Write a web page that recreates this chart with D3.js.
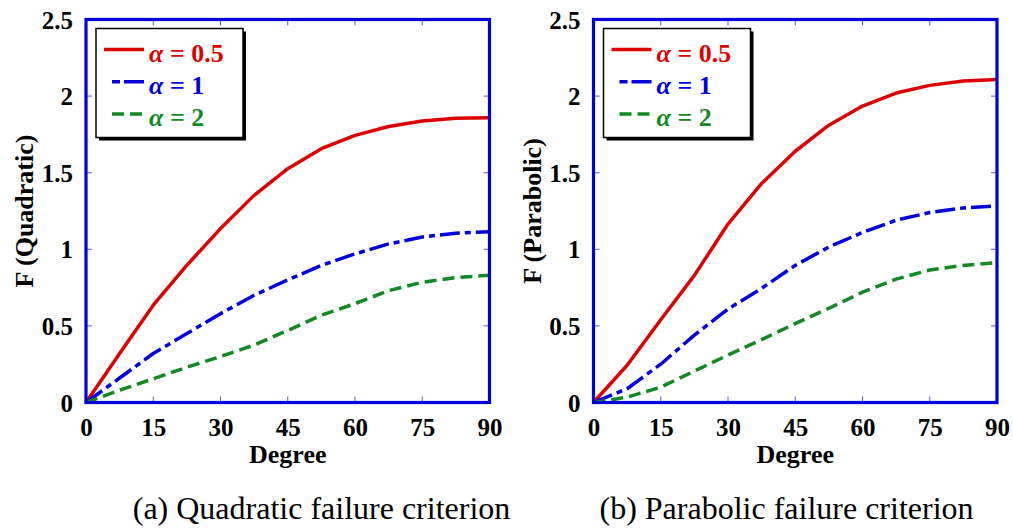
<!DOCTYPE html>
<html>
<head>
<meta charset="utf-8">
<script src="https://cdn.jsdelivr.net/npm/d3@7"></script>
<style>
  body { margin: 0; background: #fff; }
  text { font-family: "Liberation Serif", "Times New Roman", serif; }
</style>
</head>
<body>
<div class="chart"></div>
<script>
// Data, every 7.5 degrees
var degrees = [0, 7.5, 15, 22.5, 30, 37.5, 45, 52.5, 60, 67.5, 75, 82.5, 90];

var quadAlpha05 = [0, 0.32, 0.635, 0.896, 1.135, 1.352, 1.526, 1.657, 1.744, 1.802, 1.837, 1.855, 1.859];
var quadAlpha1  = [0, 0.16, 0.32, 0.45, 0.58, 0.70, 0.80, 0.895, 0.97, 1.035, 1.08, 1.105, 1.115];
var quadAlpha2  = [0, 0.08, 0.155, 0.23, 0.30, 0.375, 0.47, 0.57, 0.645, 0.73, 0.785, 0.815, 0.83];

var paraAlpha05 = [0, 0.243, 0.54, 0.83, 1.165, 1.43, 1.64, 1.81, 1.935, 2.02, 2.07, 2.098, 2.108];
var paraAlpha1  = [0, 0.09, 0.25, 0.44, 0.61, 0.745, 0.895, 1.015, 1.11, 1.19, 1.24, 1.27, 1.283];
var paraAlpha2  = [0, 0.035, 0.10, 0.205, 0.31, 0.41, 0.515, 0.615, 0.72, 0.805, 0.865, 0.895, 0.913];

var alphaLabels = ["0.5", "1", "2"];
var xTicks = [0, 15, 30, 45, 60, 75, 90];
var yTicks = [0, 0.5, 1, 1.5, 2, 2.5];

var svgWidth = 1013;
var svgHeight = 532;

var colors = ["#dd0000", "#0000dd", "#118a22"];
var dashes = [null, "20,5,6,5", "12,6"];
var frameColor = "#0000dd";

var svg = d3.select(".chart")
  .append("svg")
  .attr("width", svgWidth)
  .attr("height", svgHeight);

function drawPanel(left, series, yTitle, caption, captionX) {
  var width = 403.5;
  var height = 383;
  var top = 19.5;

  var g = svg.append("g")
    .attr("transform", `translate(${left}, ${top})`);

  var x = d3.scaleLinear().domain([0, 90]).range([0, width]);
  var y = d3.scaleLinear().domain([0, 2.5]).range([height, 0]);

  // inner ticks on all four sides
  var tickLen = 6;
  var ticks = g.append("g").attr("stroke", "#5555ee").attr("stroke-width", 1);
  xTicks.forEach(function(t) {
    ticks.append("line").attr("x1", x(t)).attr("x2", x(t)).attr("y1", height).attr("y2", height - tickLen);
    ticks.append("line").attr("x1", x(t)).attr("x2", x(t)).attr("y1", 0).attr("y2", tickLen);
  });
  yTicks.forEach(function(t) {
    ticks.append("line").attr("x1", 0).attr("x2", tickLen).attr("y1", y(t)).attr("y2", y(t));
    ticks.append("line").attr("x1", width).attr("x2", width - tickLen).attr("y1", y(t)).attr("y2", y(t));
  });

  // axes labels via d3 axes, with tick lines hidden
  var bottomAxis = d3.axisBottom(x).tickValues(xTicks).tickSize(0).tickPadding(16)
    .tickFormat(d3.format(""));
  var leftAxis = d3.axisLeft(y).tickValues(yTicks).tickSize(0).tickPadding(13)
    .tickFormat(function(d) { return String(d); });

  var xa = g.append("g").attr("transform", `translate(0, ${height})`).call(bottomAxis);
  var ya = g.append("g").call(leftAxis);
  [xa, ya].forEach(function(a) {
    a.select(".domain").remove();
    a.selectAll("text")
      .attr("font-family", "'Liberation Serif', 'Times New Roman', serif")
      .attr("font-size", 25)
      .attr("font-weight", "bold")
      .attr("fill", "#000");
  });
  xa.selectAll("text").attr("dy", "0.71em");
  ya.selectAll("text").attr("dy", "0.34em");

  // curves
  var line = d3.line()
    .x(function(d) { return x(d[0]); })
    .y(function(d) { return y(d[1]); });

  series.forEach(function(vals, i) {
    g.append("path")
      .datum(degrees.map(function(dg, k) { return [dg, vals[k]]; }))
      .attr("fill", "none")
      .attr("stroke", colors[i])
      .attr("stroke-width", 3.5)
      .attr("stroke-linejoin", "round")
      .attr("stroke-dasharray", dashes[i])
      .attr("d", line);
  });

  // frame
  g.append("rect")
    .attr("width", width)
    .attr("height", height)
    .attr("fill", "none")
    .attr("stroke", frameColor)
    .attr("stroke-width", 3.2);

  // legend
  var lg = g.append("g").attr("transform", "translate(10, 9)");
  lg.append("rect").attr("x", 3).attr("y", 3).attr("width", 147).attr("height", 109).attr("fill", "#000");
  lg.append("rect").attr("width", 147).attr("height", 109).attr("fill", "#fff")
    .attr("stroke", "#000").attr("stroke-width", 1.5);
  alphaLabels.forEach(function(lab, i) {
    var ly = 21 + i * 32.3;
    lg.append("line")
      .attr("x1", i === 0 ? 8 : 16).attr("x2", 48)
      .attr("y1", ly).attr("y2", ly)
      .attr("stroke", colors[i])
      .attr("stroke-width", 3.5)
      .attr("stroke-dasharray", i === 1 ? "8,4,20,4" : dashes[i]);
    var t = lg.append("text")
      .attr("x", 53).attr("y", ly + 12)
      .attr("font-size", 26)
      .attr("font-weight", "bold")
      .attr("fill", colors[i]);
    t.append("tspan").attr("font-style", "italic").text("α");
    t.append("tspan").text(" = " + lab);
  });

  // axis titles
  g.append("text")
    .attr("transform", `translate(${-53}, ${height / 2}) rotate(-90)`)
    .attr("text-anchor", "middle")
    .attr("font-size", 26)
    .attr("font-weight", "bold")
    .text(yTitle);

  g.append("text")
    .attr("x", width / 2)
    .attr("y", height + 60.5)
    .attr("text-anchor", "middle")
    .attr("font-size", 26)
    .attr("font-weight", "bold")
    .text("Degree");

  svg.append("text")
    .attr("x", captionX)
    .attr("y", 519)
    .attr("text-anchor", "middle")
    .attr("font-size", 32)
    .text(caption);
}

drawPanel(86, [quadAlpha05, quadAlpha1, quadAlpha2], "F (Quadratic)", "(a) Quadratic failure criterion", 321.5);
drawPanel(593.5, [paraAlpha05, paraAlpha1, paraAlpha2], "F (Parabolic)", "(b) Parabolic failure criterion", 786.5);
</script>
</body>
</html>
